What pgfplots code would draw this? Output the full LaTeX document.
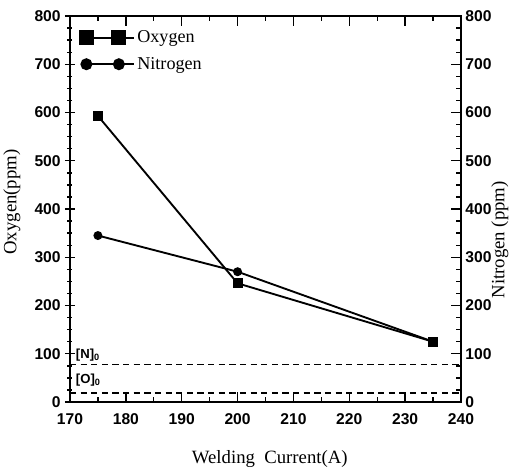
\documentclass[border=0pt]{standalone}
\usepackage{fontspec}
\setmainfont{Liberation Serif}
\newfontfamily\sansb{Liberation Sans}
\usepackage{pgfplots}
\pgfplotsset{compat=1.18}
\begin{document}
\begin{tikzpicture}
\useasboundingbox (-56pt,-56.8pt) rectangle (360pt,321.6pt);
\pgfplotsset{
  common/.style={
    scale only axis, width=312.8pt, height=308.8pt,
    at={(0pt,0pt)}, anchor=south west,
    xmin=170, xmax=240, ymin=0, ymax=800,
    ytick={0,100,...,800}, minor y tick num=3,
    axis line style={line width=1.5pt},
    every tick/.style={black, line width=1.1pt},
    major tick length=8pt, minor tick length=4pt,
    /pgf/number format/assume math mode=true,
    ticklabel style={font=\sansb\bfseries\fontsize{12.5}{13}\selectfont},
    label style={font=\fontsize{15}{17}\selectfont},
  }
}
% right axis: nitrogen
\begin{axis}[common,
  axis x line=none, axis y line*=right,
  tick align=inside,
  ylabel={Nitrogen\ (ppm)},
  ylabel style={at={([xshift=31.2pt]rel axis cs:1,0.42)}, anchor=center},
]
\addplot[black, line width=1.5pt, mark=*, mark size=2.8pt, mark options={solid}]
  coordinates {(175,345) (200,270) (235,125)};
\end{axis}
% left axis: oxygen
\begin{axis}[common,
  ytick pos=left, xtick pos=both,
  xtick={170,180,...,240}, minor x tick num=1,
  xtick align=inside, ytick align=center,
  xticklabel style={yshift=-6pt},
  xlabel={Welding\ \ Current(A)},
  xlabel style={at={([yshift=-45.6pt]rel axis cs:0.511,0)}, anchor=center},
  ylabel={Oxygen(ppm)},
  ylabel style={at={([xshift=-46.4pt]rel axis cs:0,0.518)}, anchor=center},
  legend style={at={(rel axis cs:0.015,0.975)}, anchor=north west, draw=none, fill=none,
    font=\fontsize{14.5}{16}\selectfont, row sep=6pt},
  legend cell align=left,
  legend image code/.code={
    \path (0pt,0pt) -- (38pt,0pt);
    \draw[#1] (0pt,0pt) -- (26pt,0pt);
    \draw[#1, solid, mark size={1.58*\pgfplotmarksize}] plot coordinates {(0pt,0pt) (26pt,0pt)};
  },
]
\addplot[black, line width=1.5pt, mark=square*, mark size=3.3pt]
  coordinates {(175,593) (200,246) (235,125)};
\addlegendentry{Oxygen}
\addlegendimage{black, line width=1.5pt, mark=*, mark size=2.55pt}
\addlegendentry{Nitrogen}
\addplot[black, line width=1.3pt, dash pattern=on 5pt off 3.5pt, forget plot]
  coordinates {(170,78) (240,78)};
\addplot[black, line width=1.3pt, dash pattern=on 5pt off 3.5pt, forget plot]
  coordinates {(170,19) (240,19)};
\node[anchor=west, font=\sansb\bfseries\fontsize{10.5}{11}\selectfont, inner sep=1pt] at (axis cs:170.8,97) {[N]\textsubscript{0}};
\node[anchor=west, font=\sansb\bfseries\fontsize{10.5}{11}\selectfont, inner sep=1pt] at (axis cs:170.8,45) {[O]\textsubscript{0}};
\end{axis}
\end{tikzpicture}
\end{document}
